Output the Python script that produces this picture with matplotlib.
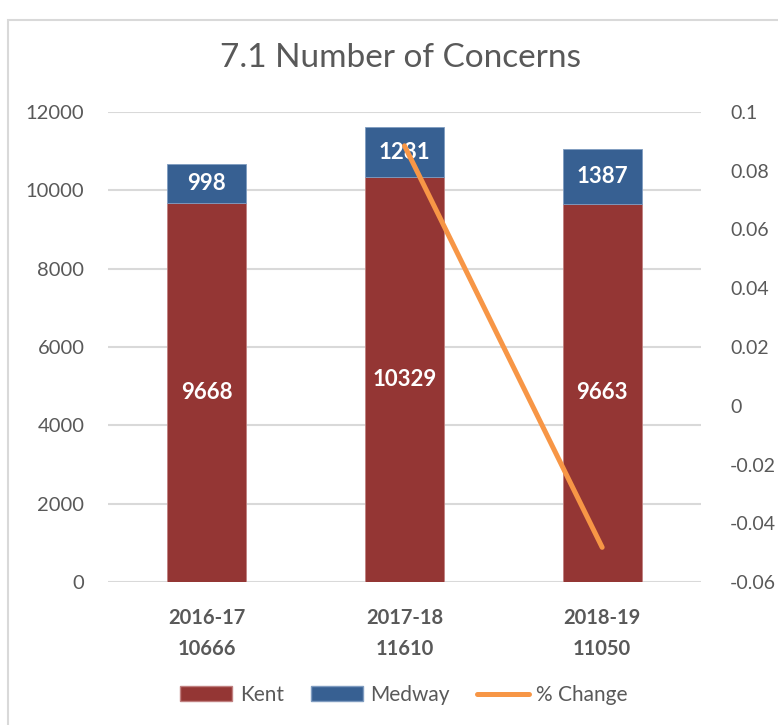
import numpy as np
import matplotlib
matplotlib.use("Agg")
import matplotlib.pyplot as plt
from matplotlib.patches import Rectangle, Patch
from matplotlib.lines import Line2D

# data
years = ["2016-17", "2017-18", "2018-19"]
totals = [10666, 11610, 11050]
kent = [9668, 10329, 9663]
medway = [998, 1281, 1387]
pct_change = [np.nan, 0.0885, -0.0482]

KENT_C = "#943634"
MEDWAY_C = "#376092"
LINE_C = "#F79646"
GRID_C = "#D9D9D9"
TEXT_C = "#595959"

plt.rcParams['font.family'] = ['Lato', 'DejaVu Sans']

fig = plt.figure(figsize=(7.78, 7.25), dpi=100)
ax = fig.add_axes([108/778, 1 - 582/725, (701 - 108)/778, (582 - 112)/725])

x = np.arange(len(years))
ax.bar(x, kent, width=0.4, color=KENT_C, edgecolor="#C08080", linewidth=0.6, zorder=3)
ax.bar(x, medway, width=0.4, bottom=kent, color=MEDWAY_C, edgecolor="#7F9CC0", linewidth=0.6, zorder=3)

for i in range(len(years)):
    ax.text(x[i], kent[i] / 2, str(kent[i]), ha="center", va="center",
            color="white", fontsize=16, fontweight="bold", zorder=5)
    ax.text(x[i], kent[i] + medway[i] / 2, str(medway[i]), ha="center", va="center",
            color="white", fontsize=16, fontweight="bold", zorder=5)

ax.set_xlim(-0.5, 2.5)
ax.set_ylim(0, 12000)
ax.set_yticks(np.arange(0, 12001, 2000))
ax.grid(axis="y", color=GRID_C, linewidth=1.5, zorder=0)
ax.set_axisbelow(True)
for s in ax.spines.values():
    s.set_visible(False)
ax.tick_params(axis="both", length=0, colors=TEXT_C, labelsize=14.5)
ax.tick_params(axis="y", pad=17)
ax.set_xticks(x)
ax.set_xticklabels([f"{y}\n{t}" for y, t in zip(years, totals)],
                   fontweight="bold", fontsize=14.5, color=TEXT_C, linespacing=1.65)
ax.tick_params(axis="x", pad=19)

ax2 = ax.twinx()
ax2.plot(x, pct_change, color=LINE_C, linewidth=3.6, solid_capstyle="round", zorder=6)
ax2.set_ylim(-0.06, 0.1)
ax2.set_yticks(np.round(np.arange(-0.06, 0.1001, 0.02), 2))
ax2.set_yticklabels(["-0.06", "-0.04", "-0.02", "0", "0.02", "0.04", "0.06", "0.08", "0.1"])
for s in ax2.spines.values():
    s.set_visible(False)
ax2.tick_params(axis="y", length=0, colors=TEXT_C, labelsize=14, pad=21)

fig.text(400/778, 1 - 58/725, "7.1 Number of Concerns", ha="center", va="center",
         fontsize=24, color=TEXT_C)

handles = [Patch(facecolor=KENT_C, edgecolor="#C08080"),
           Patch(facecolor=MEDWAY_C, edgecolor="#7F9CC0"),
           Line2D([0], [0], color=LINE_C, linewidth=3.6, solid_capstyle="round")]
fig.legend(handles, ["Kent", "Medway", "% Change"], loc="center",
           bbox_to_anchor=(404/778, 1 - 695/725), ncol=3, frameon=False,
           fontsize=15, labelcolor=TEXT_C, handlelength=2.5, handleheight=0.7,
           handletextpad=0.35, columnspacing=1.3)

fig.patches.append(Rectangle((8/778, -0.1), 1.2, 1.1 - 20/725, transform=fig.transFigure,
                             fill=False, edgecolor=GRID_C, linewidth=1.5))

fig.savefig("out.png", dpi=100, facecolor="white")
